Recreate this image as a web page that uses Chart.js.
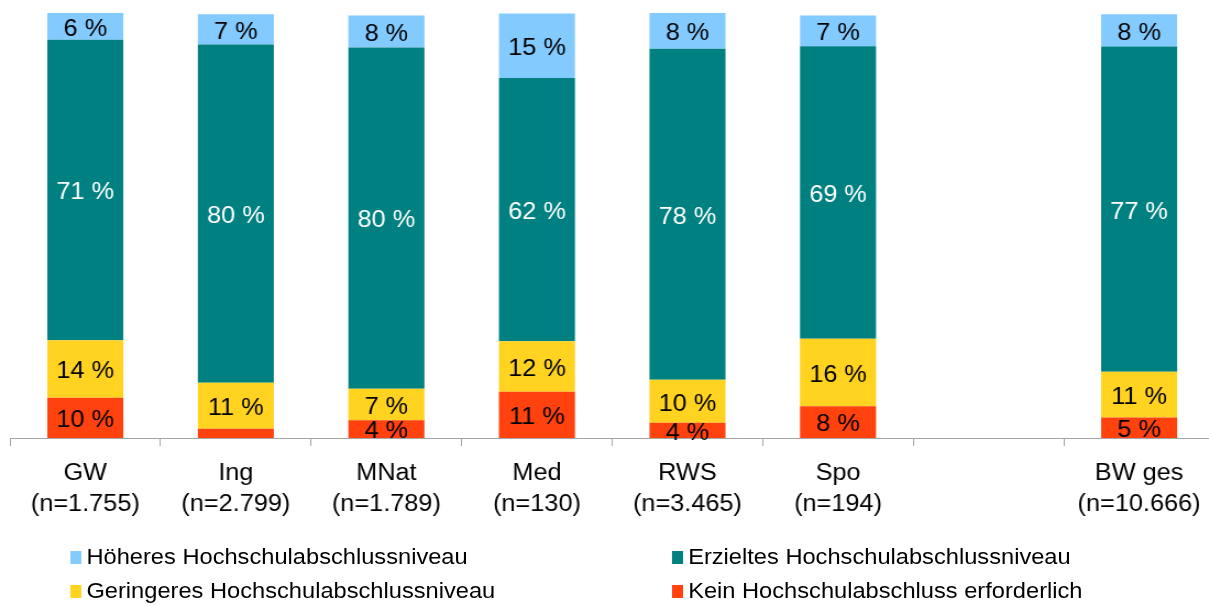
<!DOCTYPE html>
<html>
<head>
<meta charset="utf-8">
<script src="https://cdn.jsdelivr.net/npm/chart.js@4"></script>
<style>
    html, body { margin: 0; padding: 0; background: #fff; overflow: hidden; }
    #wrap {
        position: relative;
        width: 1104px;
        height: 605px;
        transform: scaleX(1.1);
        transform-origin: 0 0;
        font-family: "Liberation Sans", Arial, sans-serif;
    }
    #chart { position: absolute; left: 0; top: 0; }
    #legend {
        position: absolute;
        left: 63.6px;
        top: 540px;
        display: grid;
        grid-template-columns: 547px auto;
        grid-auto-rows: 34.5px;
    }
    .item { display: flex; align-items: center; font-size: 21.5px; color: #000; white-space: nowrap; }
    .box { width: 10.6px; height: 13px; margin-right: 4.4px; }
</style>
</head>
<body>
<div id="wrap">
    <canvas id="chart" width="1104" height="530"></canvas>
    <div id="legend"></div>
</div>
<script>
const categories = [
    ['GW', '(n=1.755)'],
    ['Ing', '(n=2.799)'],
    ['MNat', '(n=1.789)'],
    ['Med', '(n=130)'],
    ['RWS', '(n=3.465)'],
    ['Spo', '(n=194)'],
    '',
    ['BW ges', '(n=10.666)']
];

// Anteile in %, von unten nach oben gestapelt
const keinAbschluss = [9.5, 2.2, 4.2, 10.9, 3.6, 7.5, null, 4.8];
const geringeres = [13.5, 10.8, 7.4, 11.9, 10.1, 15.9, null, 10.8];
const erzieltes = [70.8, 79.7, 80.4, 62.0, 78.0, 68.9, null, 76.6];
const hoeheres = [6.3, 7.1, 7.5, 15.2, 8.4, 7.2, null, 7.6];

const FONT = '"Liberation Sans", Arial, sans-serif';

// Prozentwerte mittig in die Segmente schreiben
const segmentLabels = {
    id: 'segmentLabels',
    afterDatasetsDraw(chart) {
        const ctx = chart.ctx;
        ctx.save();
        ctx.font = '23px ' + FONT;
        ctx.textAlign = 'center';
        ctx.textBaseline = 'middle';
        chart.data.datasets.forEach((ds, i) => {
            chart.getDatasetMeta(i).data.forEach((bar, j) => {
                const v = ds.data[j];
                if (v == null || v < 3) return;
                ctx.fillStyle = ds.labelColor;
                ctx.fillText(Math.round(v) + ' %', bar.x, (bar.y + bar.base) / 2 + 3);
            });
        });
        ctx.restore();
    }
};

const datasets = [
    { label: 'Kein Hochschulabschluss erforderlich', data: keinAbschluss, backgroundColor: '#ff420e', labelColor: '#000' },
    { label: 'Geringeres Hochschulabschlussniveau', data: geringeres, backgroundColor: '#ffd320', labelColor: '#000' },
    { label: 'Erzieltes Hochschulabschlussniveau', data: erzieltes, backgroundColor: '#008080', labelColor: '#fff' },
    { label: 'Höheres Hochschulabschlussniveau', data: hoeheres, backgroundColor: '#83caff', labelColor: '#000' }
];

new Chart(document.getElementById('chart'), {
    type: 'bar',
    data: {
        labels: categories,
        datasets: datasets.map(d => ({
            ...d,
            borderWidth: 0,
            barPercentage: 0.505,
            categoryPercentage: 1,
            clip: false
        }))
    },
    options: {
        responsive: false,
        animation: false,
        devicePixelRatio: 1,
        layout: { padding: { top: 13.5, left: 9.1, right: 0, bottom: 0 } },
        plugins: {
            legend: { display: false },
            tooltip: { enabled: false }
        },
        scales: {
            x: {
                stacked: true,
                grid: { display: true, drawOnChartArea: false, drawTicks: true, tickLength: 8, color: '#a6a6a6' },
                border: { display: true, color: '#a6a6a6', width: 1 },
                ticks: {
                    color: '#000',
                    padding: 12,
                    maxRotation: 0,
                    autoSkip: false,
                    font: { family: FONT, size: 23, lineHeight: 31 / 23 }
                },
                afterFit(scale) { scale.height = 92; }
            },
            y: { stacked: true, display: false, min: 0, max: 100 }
        }
    },
    plugins: [segmentLabels]
});

// Legende in zwei Spalten wie im Original
const legendOrder = [3, 2, 1, 0];
const legend = document.getElementById('legend');
legendOrder.forEach(i => {
    const item = document.createElement('div');
    item.className = 'item';
    item.innerHTML = `<span class="box" style="background:${datasets[i].backgroundColor}"></span>${datasets[i].label}`;
    legend.appendChild(item);
});
</script>
</body>
</html>
